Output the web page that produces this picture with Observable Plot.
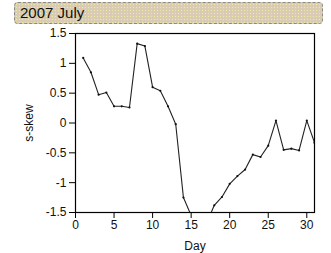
<!DOCTYPE html>
<html>
<head>
<meta charset="utf-8">
<script src="https://cdn.jsdelivr.net/npm/d3@7"></script>
<script src="https://cdn.jsdelivr.net/npm/@observablehq/plot@0.6"></script>
<style>
  html, body { margin: 0; padding: 0; background: #fff; }
  #wrap { position: relative; width: 331px; height: 253px; overflow: hidden; }
  #title {
    position: absolute; left: 14px; top: 2px; width: 302px; height: 20px;
    border: 1px dashed #8a8a8a; border-radius: 4px;
    background-color: #d6cfb2;
    background-image: radial-gradient(#f0e8a0 0.6px, transparent 0.9px), radial-gradient(#e8b8c0 0.6px, transparent 0.9px);
    background-size: 3px 3px, 3px 3px;
    background-position: 0 0, 1.5px 1.5px;
    font-family: "Liberation Sans", Arial, sans-serif; font-size: 15px; color: #111;
    line-height: 20px; padding-left: 5px; box-sizing: content-box;
  }
  #chart { position: absolute; left: 0; top: 25px; }
  svg { font-family: "Liberation Sans", Arial, sans-serif; }
</style>
</head>
<body>
<div id="wrap">
  <div id="title">2007 July</div>
  <div id="chart"></div>
</div>
<script>
const days = [1,2,3,4,5,6,7,8,9,10,11,12,13,14,15,16,17,18,19,20,21,22,23,24,25,26,27,28,29,30,31];
const skew = [1.09,0.85,0.475,0.51,0.28,0.28,0.26,1.33,1.29,0.6,0.54,0.28,-0.02,-1.25,-1.55,-1.8,-1.68,-1.38,-1.24,-1.02,-0.89,-0.78,-0.53,-0.57,-0.38,0.04,-0.45,-0.43,-0.46,0.04,-0.33];
const xTicks = [0,5,10,15,20,25,30];
const yTicks = [-1.5,-1,-0.5,0,0.5,1,1.5];
const xLabel = "Day";
const yLabel = "s-skew";

const data = days.map((d, i) => ({day: d, skew: skew[i]}));

const chart = Plot.plot({
  width: 331,
  height: 228,
  marginTop: 8,
  marginBottom: 41,
  marginLeft: 75,
  marginRight: 17,
  style: {fontSize: "12px", color: "#111", background: "white", overflow: "visible"},
  x: {domain: [0, 31]},
  y: {domain: [-1.5, 1.5]},
  marks: [
    Plot.frame({stroke: "#000", strokeWidth: 1.2}),
    Plot.axisX({ticks: xTicks, tickFormat: d => String(d), label: xLabel, labelAnchor: "center", labelArrow: "none", labelOffset: 37, tickSize: 6, tickPadding: 2, stroke: "#000"}),
    Plot.axisY({ticks: yTicks, tickFormat: d => String(d), label: yLabel, labelAnchor: "center", labelArrow: "none", labelOffset: 51, tickSize: 6, tickPadding: 3, stroke: "#000"}),
    Plot.line(data, {x: "day", y: "skew", stroke: "#222", strokeWidth: 1.1, clip: true}),
    Plot.dot(data, {x: "day", y: "skew", r: 1.1, fill: "#111", stroke: "none", clip: true})
  ]
});
document.getElementById("chart").appendChild(chart);
</script>
</body>
</html>
